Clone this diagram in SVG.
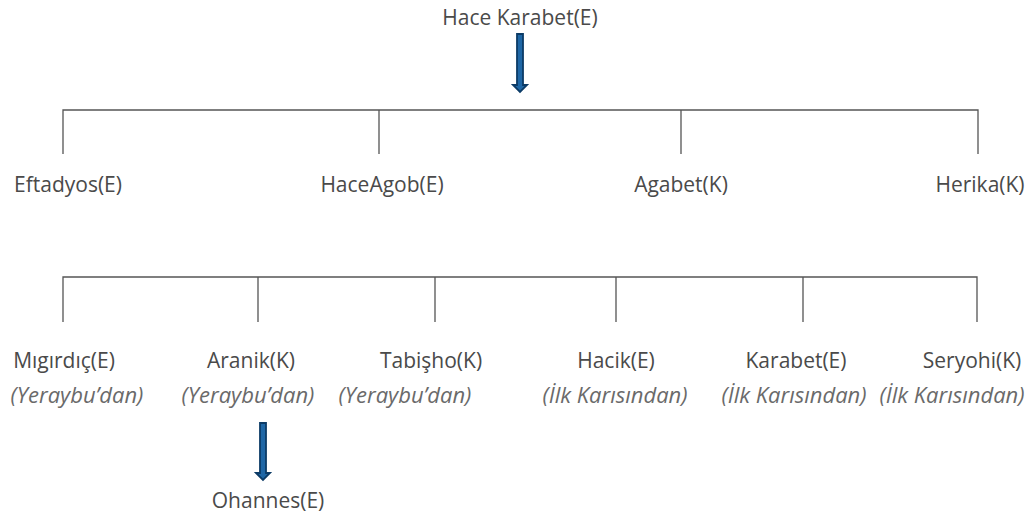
<svg xmlns="http://www.w3.org/2000/svg" width="1036" height="522" viewBox="0 0 1036 522">
<style>
.n{font-family:"Open Sans","Noto Sans",sans-serif;font-size:21px;fill:#4a4a4a;text-anchor:middle}
.i{font-family:"Open Sans","Noto Sans",sans-serif;font-size:22px;font-style:italic;fill:#6a6a6a;text-anchor:middle}
.l{stroke:#555;stroke-width:1.3;fill:none}
.a{fill:#1f67a6;stroke:#0c3b66;stroke-width:1.8}
</style>
<rect width="1036" height="522" fill="#fff"/>
<g id="connectors">
<path class="l" d="M63,154V110H978V154M379,110V154M681,110V154"/>
<path class="l" d="M63,322V277H977V322M258,277V322M435,277V322M616,277V322M803,277V322"/>
<path class="a" d="M517,34H523V85H527L520,92L513,85H517Z"/>
<path class="a" d="M260,423H266V473H270L263,480L256,473H260Z"/>
</g>
<g id="hace-karabet"><text class="n" x="520" y="25">Hace Karabet(E)</text></g>
<g id="eftadyos"><text class="n" x="68" y="192">Eftadyos(E)</text></g>
<g id="haceagob"><text class="n" x="382" y="192">HaceAgob(E)</text></g>
<g id="agabet"><text class="n" x="681" y="192">Agabet(K)</text></g>
<g id="herika"><text class="n" x="980" y="192">Herika(K)</text></g>
<g id="migirdic"><text class="n" x="64" y="368">Mıgırdıç(E)</text><text class="i" x="77" y="403">(Yeraybu’dan)</text></g>
<g id="aranik"><text class="n" x="251" y="368">Aranik(K)</text><text class="i" x="248" y="403">(Yeraybu’dan)</text></g>
<g id="tabisho"><text class="n" x="431" y="368">Tabişho(K)</text><text class="i" x="405" y="403">(Yeraybu’dan)</text></g>
<g id="hacik"><text class="n" x="616" y="368">Hacik(E)</text><text class="i" x="615" y="403">(İlk Karısından)</text></g>
<g id="karabet"><text class="n" x="796" y="368">Karabet(E)</text><text class="i" x="794" y="403">(İlk Karısından)</text></g>
<g id="seryohi"><text class="n" x="972" y="368">Seryohi(K)</text><text class="i" x="952" y="403">(İlk Karısından)</text></g>
<g id="ohannes"><text class="n" x="268" y="508">Ohannes(E)</text></g>
</svg>
